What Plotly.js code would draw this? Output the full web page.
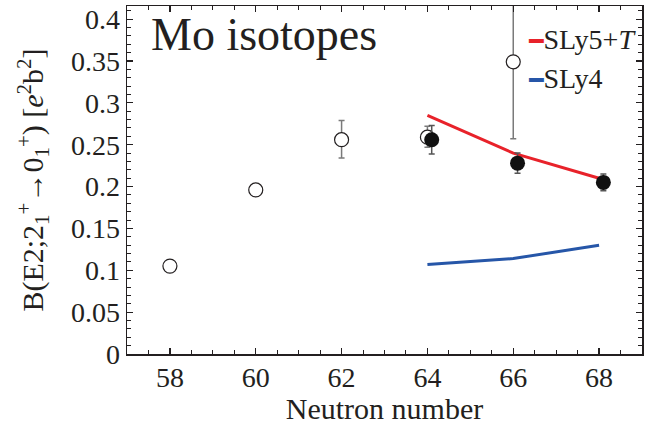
<!DOCTYPE html>
<html>
<head>
<meta charset="utf-8">
<script src="https://cdn.plot.ly/plotly-3.0.1.min.js"></script>
<style>html,body{margin:0;padding:0;background:#fff;}#chart{width:654px;height:425px;}</style>
</head>
<body>
<div id="chart"></div>
<script>
// Open circles (earlier data)
var nOpen = [58, 60, 62, 64, 66];
var bOpen = [0.105, 0.196, 0.256, 0.259, 0.349];
var errOpenPlus = [0.005, 0.005, 0.023, 0.013, 0.092];
var errOpenMinus = [0.005, 0.005, 0.022, 0.012, 0.092];
// Filled circles (present data)
var nFilled = [64.1, 66.1, 68.1];
var bFilled = [0.256, 0.228, 0.205];
var errFilled = [0.017, 0.012, 0.010];
// Calculations
var nCalc = [64, 66, 68];
var bSLy5T = [0.285, 0.240, 0.210];
var bSLy4 = [0.107, 0.114, 0.130];
var xTicks = [58, 60, 62, 64, 66, 68];

var ink = '#231f20';
var serif = 'Liberation Serif, Times New Roman, serif';

var traces = [
  {x: nCalc, y: bSLy5T, mode: 'lines', line: {color: '#e8222a', width: 3}, showlegend: false, hoverinfo: 'skip'},
  {x: nCalc, y: bSLy4, mode: 'lines', line: {color: '#2656a8', width: 3}, showlegend: false, hoverinfo: 'skip'},
  {x: nOpen, y: bOpen, mode: 'markers',
   marker: {symbol: 'circle', size: 14, color: '#ffffff', line: {color: ink, width: 1.2}},
   error_y: {type: 'data', symmetric: false, array: errOpenPlus, arrayminus: errOpenMinus, color: '#7a7a7a', thickness: 1.5, width: 3},
   showlegend: false},
  {x: nFilled, y: bFilled, mode: 'markers',
   marker: {symbol: 'circle', size: 15, color: '#111111', line: {color: '#111111', width: 0}},
   error_y: {type: 'data', array: errFilled, color: '#555555', thickness: 1.5, width: 3},
   showlegend: false}
];

var axisCommon = {
  showgrid: false, zeroline: false, showline: true, linecolor: ink, linewidth: 1.5,
  mirror: 'allticks', ticks: 'inside', ticklen: 6, tickwidth: 1.2, tickcolor: ink,
  tickfont: {family: serif, size: 28, color: ink}
};

var layout = {
  width: 654, height: 425,
  margin: {l: 127, r: 12, t: 6, b: 71},
  paper_bgcolor: '#ffffff', plot_bgcolor: '#ffffff',
  showlegend: false,
  xaxis: Object.assign({}, axisCommon, {
    range: [57, 69], tickvals: xTicks, ticktext: xTicks.map(String),
    ticklabelstandoff: -2,
    minor: {dtick: 0.5, tick0: 57, ticks: 'inside', ticklen: 4, tickwidth: 1, tickcolor: ink},
    title: {text: 'Neutron number', font: {family: serif, size: 30, color: ink}, standoff: 9}
  }),
  yaxis: Object.assign({}, axisCommon, {
    range: [0, 0.4157], dtick: 0.05, tick0: 0,
    minor: {dtick: 0.01, ticks: 'inside', ticklen: 4, tickwidth: 1, tickcolor: ink},
    title: {text: 'B(E2;2<sub>1</sub><sup>+</sup>→0<sub>1</sub><sup>+</sup>) [<i>e</i><sup>2</sup>b<sup>2</sup>]', font: {family: serif, size: 30, color: ink}, standoff: 18}
  }),
  annotations: [
    {xref: 'paper', yref: 'paper', x: 0.042, y: 0.917, xanchor: 'left', yanchor: 'middle', showarrow: false,
     text: 'Mo isotopes', font: {family: serif, size: 46, color: ink}},
    {xref: 'paper', yref: 'paper', x: 0.775, y: 0.905, xanchor: 'left', yanchor: 'middle', showarrow: false,
     text: '<span style="color:#e8222a;font-family:DejaVu Sans;font-size:24px">━</span>SLy5+<i>T</i>', font: {family: serif, size: 28, color: ink}},
    {xref: 'paper', yref: 'paper', x: 0.775, y: 0.793, xanchor: 'left', yanchor: 'middle', showarrow: false,
     text: '<span style="color:#2656a8;font-family:DejaVu Sans;font-size:24px">━</span>SLy4', font: {family: serif, size: 28, color: ink}}
  ]
};

Plotly.newPlot('chart', traces, layout, {staticPlot: true, displayModeBar: false});
</script>
</body>
</html>
